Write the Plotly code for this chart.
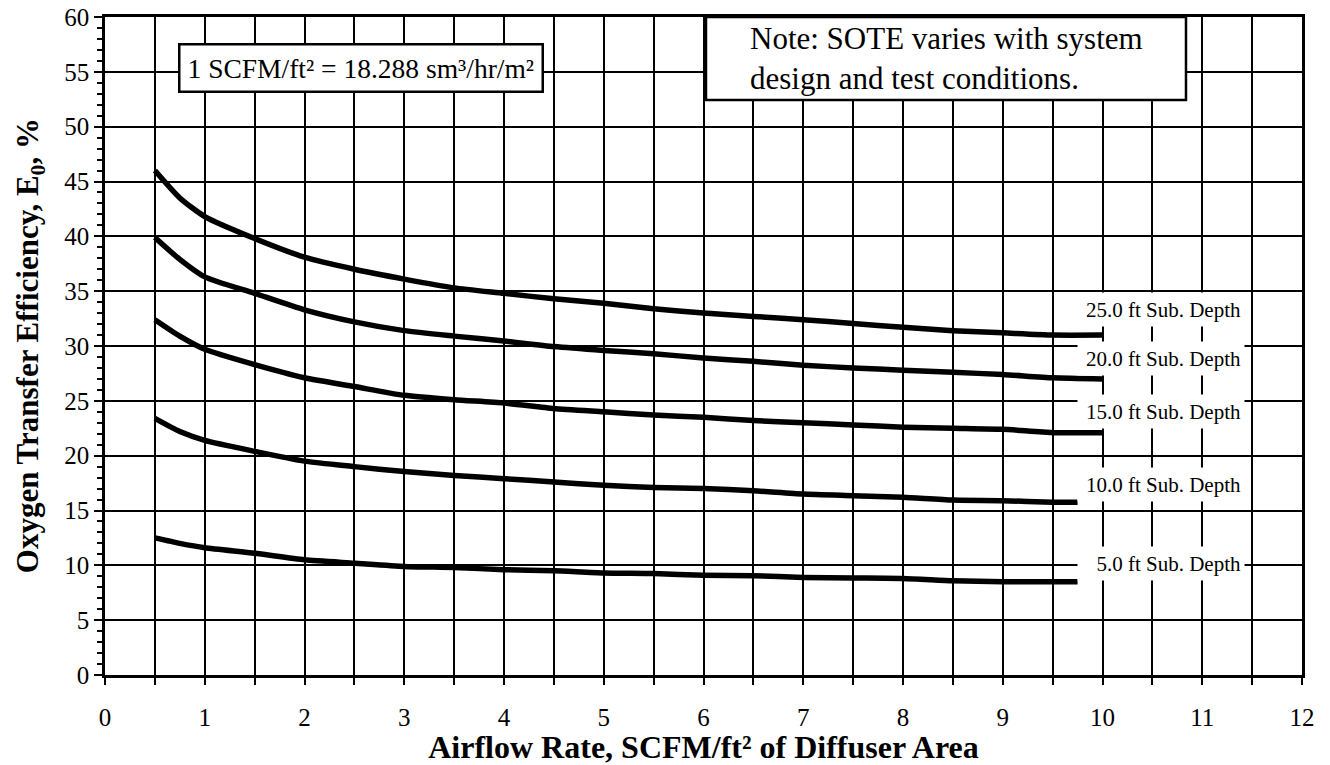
import plotly.graph_objects as go

# ---- data ----
x_main = [0.5, 0.75, 1.0, 1.5, 2.0, 2.5, 3.0, 3.5, 4.0, 4.5, 5.0, 5.5, 6.0, 6.5, 7.0, 7.5, 8.0, 8.5, 9.0, 9.5, 10.0]
x_short = [0.5, 0.75, 1.0, 1.5, 2.0, 2.5, 3.0, 3.5, 4.0, 4.5, 5.0, 5.5, 6.0, 6.5, 7.0, 7.5, 8.0, 8.5, 9.0, 9.5, 9.75]

depth_25 = [46.0, 43.5, 41.8, 39.8, 38.1, 37.0, 36.1, 35.3, 34.8, 34.3, 33.9, 33.4, 33.0, 32.7, 32.4, 32.05, 31.7, 31.4, 31.2, 31.0, 31.0]
depth_20 = [39.9, 37.9, 36.3, 34.8, 33.3, 32.2, 31.4, 30.9, 30.45, 29.95, 29.6, 29.3, 28.9, 28.6, 28.25, 28.0, 27.8, 27.6, 27.4, 27.1, 27.0]
depth_15 = [32.4, 30.9, 29.7, 28.3, 27.1, 26.3, 25.5, 25.1, 24.8, 24.3, 24.0, 23.7, 23.5, 23.2, 23.0, 22.8, 22.6, 22.5, 22.4, 22.1, 22.1]
depth_10 = [23.4, 22.2, 21.4, 20.4, 19.5, 19.0, 18.55, 18.2, 17.9, 17.6, 17.3, 17.1, 17.0, 16.8, 16.5, 16.35, 16.2, 15.95, 15.9, 15.75, 15.75]
depth_5 = [12.5, 12.0, 11.6, 11.1, 10.5, 10.2, 9.9, 9.8, 9.6, 9.5, 9.3, 9.25, 9.1, 9.05, 8.9, 8.85, 8.8, 8.6, 8.5, 8.5, 8.5]

series_names = ["25.0 ft Sub. Depth", "20.0 ft Sub. Depth", "15.0 ft Sub. Depth",
                "10.0 ft Sub. Depth", "5.0 ft Sub. Depth"]
series_x = [x_main, x_main, x_main, x_short, x_short]
series_y = [depth_25, depth_20, depth_15, depth_10, depth_5]
label_y = [33.3, 28.9, 24.0, 17.4, 10.2]

x_ticks = list(range(0, 13))
y_ticks = list(range(0, 61, 5))

FONT = "Liberation Serif, Times New Roman, serif"

fig = go.Figure()
for name, xs, ys in zip(series_names, series_x, series_y):
    fig.add_trace(go.Scatter(x=xs, y=ys, mode="lines", name=name,
                             line=dict(color="black", width=5.5, shape="spline", smoothing=0.6),
                             showlegend=False, hoverinfo="skip"))

annotations = []
for name, ly in zip(series_names, label_y):
    annotations.append(dict(x=10.59, y=ly, xref="x", yref="y", text=name, showarrow=False,
                            xanchor="center", yanchor="middle", align="right",
                            width=160, height=27, borderpad=3, bgcolor="white",
                            font=dict(family=FONT, size=21, color="black")))

# info boxes
annotations.append(dict(x=0.732, y=55.39, xref="x", yref="y", xanchor="left", yanchor="middle",
                        text="1 SCFM/ft² = 18.288 sm³/hr/m²", showarrow=False,
                        bgcolor="white", bordercolor="black", borderwidth=2.5, borderpad=7,
                        font=dict(family=FONT, size=27.5, color="black")))

annotations.append(dict(x=6.446, y=56.26, xref="x", yref="y", xanchor="left", yanchor="middle",
                        align="left", text="Note: SOTE varies with system<br>design and test conditions.",
                        showarrow=False, font=dict(family=FONT, size=31, color="black")))

# y-axis title placed as a rotated annotation to match the reference position
annotations.append(dict(x=-0.0625, y=0.5, xref="paper", yref="paper", xanchor="center", yanchor="middle",
                        textangle=-90, showarrow=False,
                        text="<b>Oxygen Transfer Efficiency, E<sub>0</sub>, %</b>",
                        font=dict(family=FONT, size=31, color="black")))

shapes = [dict(type="rect", xref="x", yref="y", x0=6.025, x1=10.837, y0=52.43, y1=60,
               line=dict(color="black", width=2.5), fillcolor="white", layer="above")]

# page body has an 8px margin: figure is 1322x757 so that it fits the 1330x765 window
fig.update_layout(
    width=1322, height=757,
    margin=dict(l=97, r=28, t=9, b=90),
    paper_bgcolor="white", plot_bgcolor="white",
    font=dict(family=FONT, color="black"),
    annotations=annotations, shapes=shapes,
    showlegend=False,
)

fig.update_xaxes(range=[0, 12], tickvals=x_ticks, ticktext=[str(v) for v in x_ticks],
                 automargin=False,
                 showgrid=True, gridcolor="black", gridwidth=2,
                 ticks="outside", ticklen=7, tickwidth=2, tickcolor="black",
                 minor=dict(dtick=0.5, tick0=0, showgrid=True, gridcolor="black", gridwidth=2,
                            ticks="outside", ticklen=7, tickwidth=2, tickcolor="black"),
                 showline=True, linecolor="black", linewidth=2.5, mirror=True,
                 zeroline=False, tickfont=dict(family=FONT, size=25, color="black"),
                 ticklabelstandoff=11, ticklabeloverflow="allow",
                 title=dict(text="Airflow Rate, SCFM/ft² of Diffuser Area", standoff=0,
                            font=dict(family=FONT, size=32, color="black", weight="bold")))

fig.update_yaxes(range=[0, 60], tickvals=y_ticks, ticktext=[str(v) for v in y_ticks],
                 automargin=False,
                 showgrid=True, gridcolor="black", gridwidth=2,
                 ticks="outside", ticklen=8, tickwidth=2, tickcolor="black",
                 minor=dict(dtick=1, tick0=0, showgrid=False,
                            ticks="outside", ticklen=5, tickwidth=1.5, tickcolor="black"),
                 showline=True, linecolor="black", linewidth=2.5, mirror=True,
                 zeroline=False, tickfont=dict(family=FONT, size=25, color="black"),
                 ticklabeloverflow="allow")

fig.write_html("out.html")
